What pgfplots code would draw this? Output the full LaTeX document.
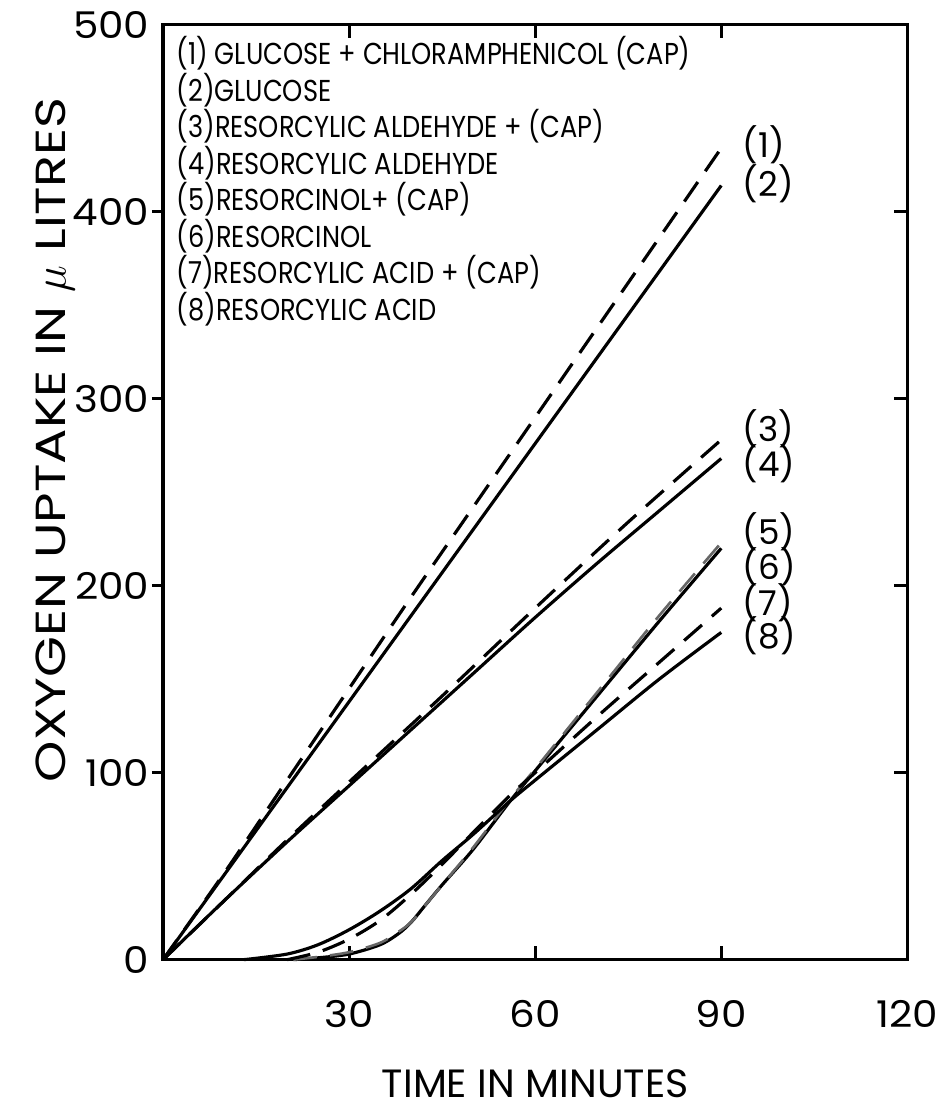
\documentclass[border=0pt]{standalone}
\usepackage{fontspec}
\setmainfont{Poppins}
\newfontfamily\legfont[FakeStretch=0.85]{Poppins}
\newfontfamily\tickfont[FakeStretch=1.1]{Poppins}
\newfontfamily\labfont[FakeStretch=1.25]{Poppins}
\usepackage{pgfplots}
\pgfplotsset{compat=1.18}

% oxygen uptake curves
\pgfplotstableread{
x y
0 0
10 47
20 96
30 145
40 194
50 242
60 290
70 338
80 386
90 434
}\curveA
\pgfplotstableread{
x y
0 0
10 46
20 92
30 138
40 184
50 230
60 276
70 322
80 368
90 414
}\curveB
\pgfplotstableread{
x y
0 0
10 32
20 64
30 95
45 141
60 188
75 234
90 278
}\curveC
\pgfplotstableread{
x y
0 0
10 32
20 63
30 93
40 123
50 153
60 183
70 212
80 240
90 268
}\curveD
\pgfplotstableread{
x y
21 0
25 1.5
30 4
35 9
38 15
40 20
42 28
45 40
50 60
56 86
60 102
70 143
80 184
90 223
}\curveE
\pgfplotstableread{
x y
21 0
25 1
30 3
35 8
38 14
40 20
42 28
45 40
50 59
56 85
60 101
70 141
80 181
90 220
}\curveF
\pgfplotstableread{
x y
20 0
25 4
30 11
35 21
40 35
45 51
50 68
56 88
60 100
70 130
80 159
90 188
}\curveG
\pgfplotstableread{
x y
13 0
20 3
25 8
30 16
35 26
40 38
45 53
50 67
56 85
60 96
70 123
80 150
90 175
}\curveH

\begin{document}
\begin{tikzpicture}
\begin{axis}[
  name=main,
  scale only axis,
  width=9.95cm, height=12.5cm,
  xmin=0, xmax=120, ymin=0, ymax=500,
  xtick={30,60,90,120},
  ytick={0,100,200,300,400,500},
  xtick pos=both,
  ytick pos=right,
  yticklabel pos=left,
  tick align=inside,
  major tick length=0.18cm,
  axis line style={line width=1.3pt},
  every tick/.style={black, line width=1.2pt},
  /pgf/number format/assume math mode=true,
  ticklabel style={font=\tickfont\fontsize{14}{16}\selectfont},
  xticklabel style={anchor=center, yshift=-0.72cm},
  yticklabel style={xshift=-0.06cm},
  xlabel={TIME IN MINUTES},
  ylabel={OXYGEN UPTAKE IN $\mu$ LITRES},
  xlabel style={font=\fontsize{15}{17}\selectfont,
    at={(axis description cs:0.5,-0.133)}, anchor=center},
  ylabel style={font=\labfont\fontsize{16}{18}\selectfont,
    at={(axis description cs:-0.145,0.556)}, anchor=center},
  clip=false,
]
\addplot[black, line width=1.2pt, dash pattern=on 9pt off 5pt, smooth] table {\curveA};
\addplot[black, line width=1.2pt, smooth] table {\curveB};
\addplot[black, line width=1.2pt, dash pattern=on 9pt off 5pt, smooth] table {\curveC};
\addplot[black, line width=1.2pt, smooth] table {\curveD};
\addplot[black, line width=1.2pt, smooth] table {\curveF};
\addplot[black!60, line width=1.0pt, dash pattern=on 9pt off 5pt, smooth] table {\curveE};
\addplot[black, line width=1.2pt, dash pattern=on 9pt off 5pt, smooth] table {\curveG};
\addplot[black, line width=1.2pt, smooth] table {\curveH};

\begin{scope}[every node/.style={anchor=west, font=\fontsize{13}{15}\selectfont}]
\node at (axis cs:92,436) {(1)};
\node at (axis cs:92,415) {(2)};
\node at (axis cs:92,284) {(3)};
\node at (axis cs:92,265) {(4)};
\node at (axis cs:92,229) {(5)};
\node at (axis cs:92,210) {(6)};
\node at (axis cs:92,191) {(7)};
\node at (axis cs:92,173) {(8)};
\end{scope}

\node[anchor=north west, align=left, inner sep=0pt,
      font=\legfont\fontsize{11.5}{12.8}\selectfont]
  at (axis cs:2.1,494) {%
  (1) GLUCOSE + CHLORAMPHENICOL (CAP)\\
  (2)GLUCOSE\\
  (3)RESORCYLIC ALDEHYDE + (CAP)\\
  (4)RESORCYLIC ALDEHYDE\\
  (5)RESORCINOL+ (CAP)\\
  (6)RESORCINOL\\
  (7)RESORCYLIC ACID + (CAP)\\
  (8)RESORCYLIC ACID};
\end{axis}
% outward ticks on the left edge
\begin{axis}[
  scale only axis,
  width=9.95cm, height=12.5cm,
  xmin=0, xmax=120, ymin=0, ymax=500,
  hide x axis,
  axis y line*=left,
  ytick={100,200,300,400},
  yticklabels={},
  tick align=outside,
  major tick length=0.15cm,
  axis line style={line width=1.3pt},
  every tick/.style={black, line width=1.2pt},
]
\end{axis}
\path[use as bounding box] ([shift={(-2.18cm,-2.09cm)}]main.south west)
  rectangle ([shift={(0.55cm,0.33cm)}]main.north east);
\end{tikzpicture}
\end{document}
